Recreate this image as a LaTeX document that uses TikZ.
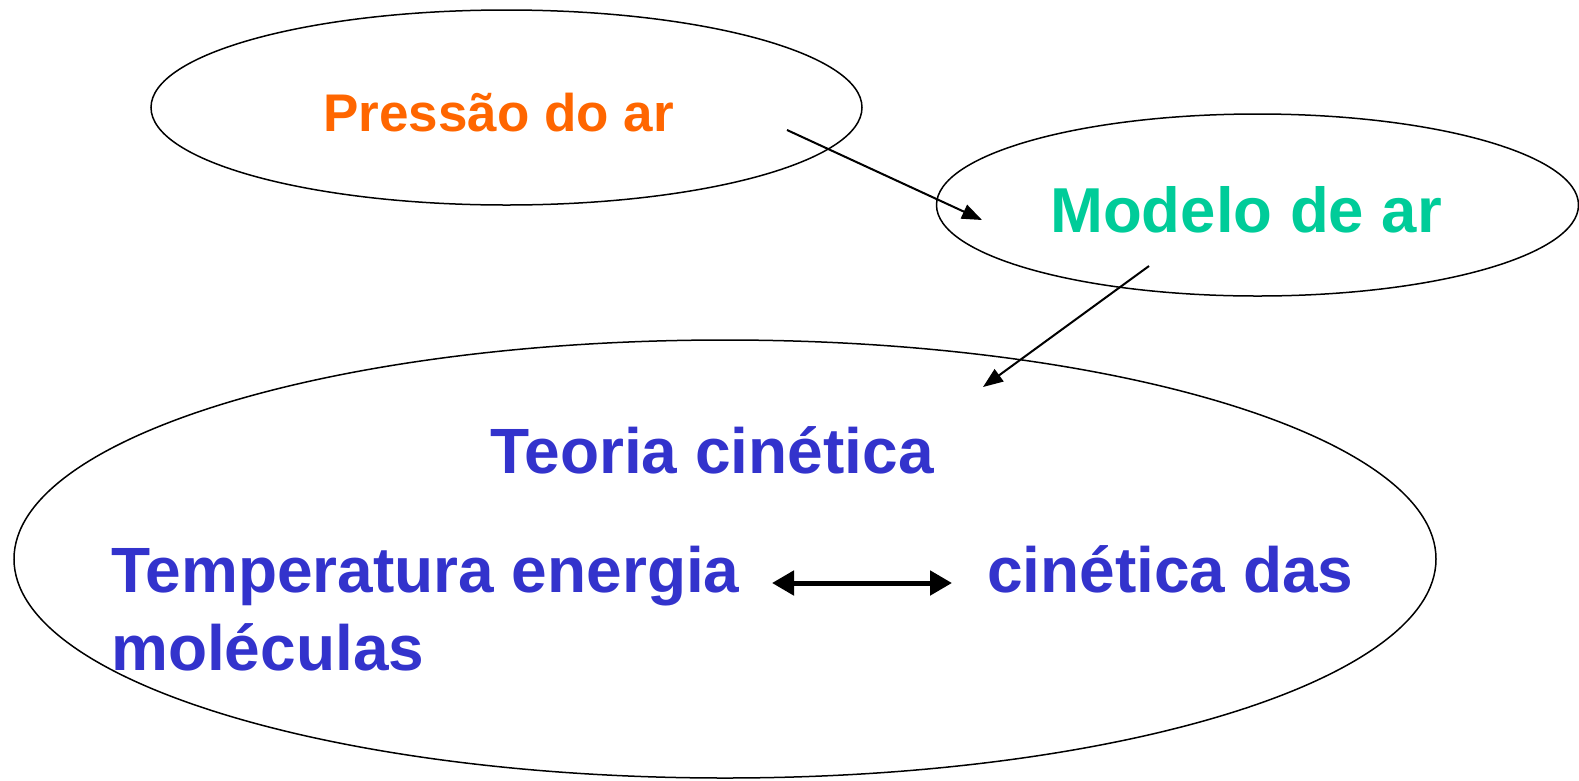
\documentclass[tikz,border=0pt]{standalone}
\usepackage{fontspec}
\setmainfont{Liberation Sans}
\usetikzlibrary{shapes.geometric,arrows.meta}
\definecolor{arorange}{HTML}{FF6600}
\definecolor{argreen}{HTML}{00CC99}
\definecolor{arblue}{HTML}{3333CC}
\begin{document}
\begin{tikzpicture}[x=1pt, y=-1pt,
    bubble/.style={draw, line width=1.5pt, ellipse, inner sep=0pt},
    word/.style={anchor=base west, inner sep=0pt, font=\bfseries\fontsize{64}{77}\selectfont},
    link/.style={line width=2pt, -{Triangle[length=20pt,width=15pt]}}]
        \useasboundingbox (0,0) rectangle (1579,780);
        \node[bubble, minimum width=711pt, minimum height=195pt] (pressao) at (506.5,107.5) {};
        \node[bubble, minimum width=642pt, minimum height=182pt] (modelo) at (1257.5,205) {};
        \node[bubble, minimum width=1422pt, minimum height=438pt] (teoria) at (725,559) {};
        \node[word, text=arorange, font=\bfseries\fontsize{53}{64}\selectfont] (tpressao) at (323,131) {Pressão do ar};
        \node[word, text=argreen, font=\bfseries\fontsize{63.5}{76}\selectfont] (tmodelo) at (1050,232) {Modelo de ar};
        \node[word, text=arblue] (tteoria) at (490,473) {Teoria cinética};
        \node[word, text=arblue] (ttemp) at (111,592) {Temperatura energia};
        \node[word, text=arblue] (tmol) at (111,670) {moléculas};
        \node[word, text=arblue] (tcin) at (987,592) {cinética das};
        % arrow ends
        \coordinate (a1) at (787,130);
        \coordinate (b1) at (982,220);
        \coordinate (a2) at (1149,266);
        \coordinate (b2) at (983,387);
        \coordinate (c1) at (772,583);
        \coordinate (c2) at (952,583);
        \draw[link] (a1) -- (b1);
        \draw[link] (a2) -- (b2);
        \draw[line width=5pt, {Triangle[length=22pt,width=24pt]}-{Triangle[length=22pt,width=24pt]}] (c1) -- (c2);
    \end{tikzpicture}
\end{document}
